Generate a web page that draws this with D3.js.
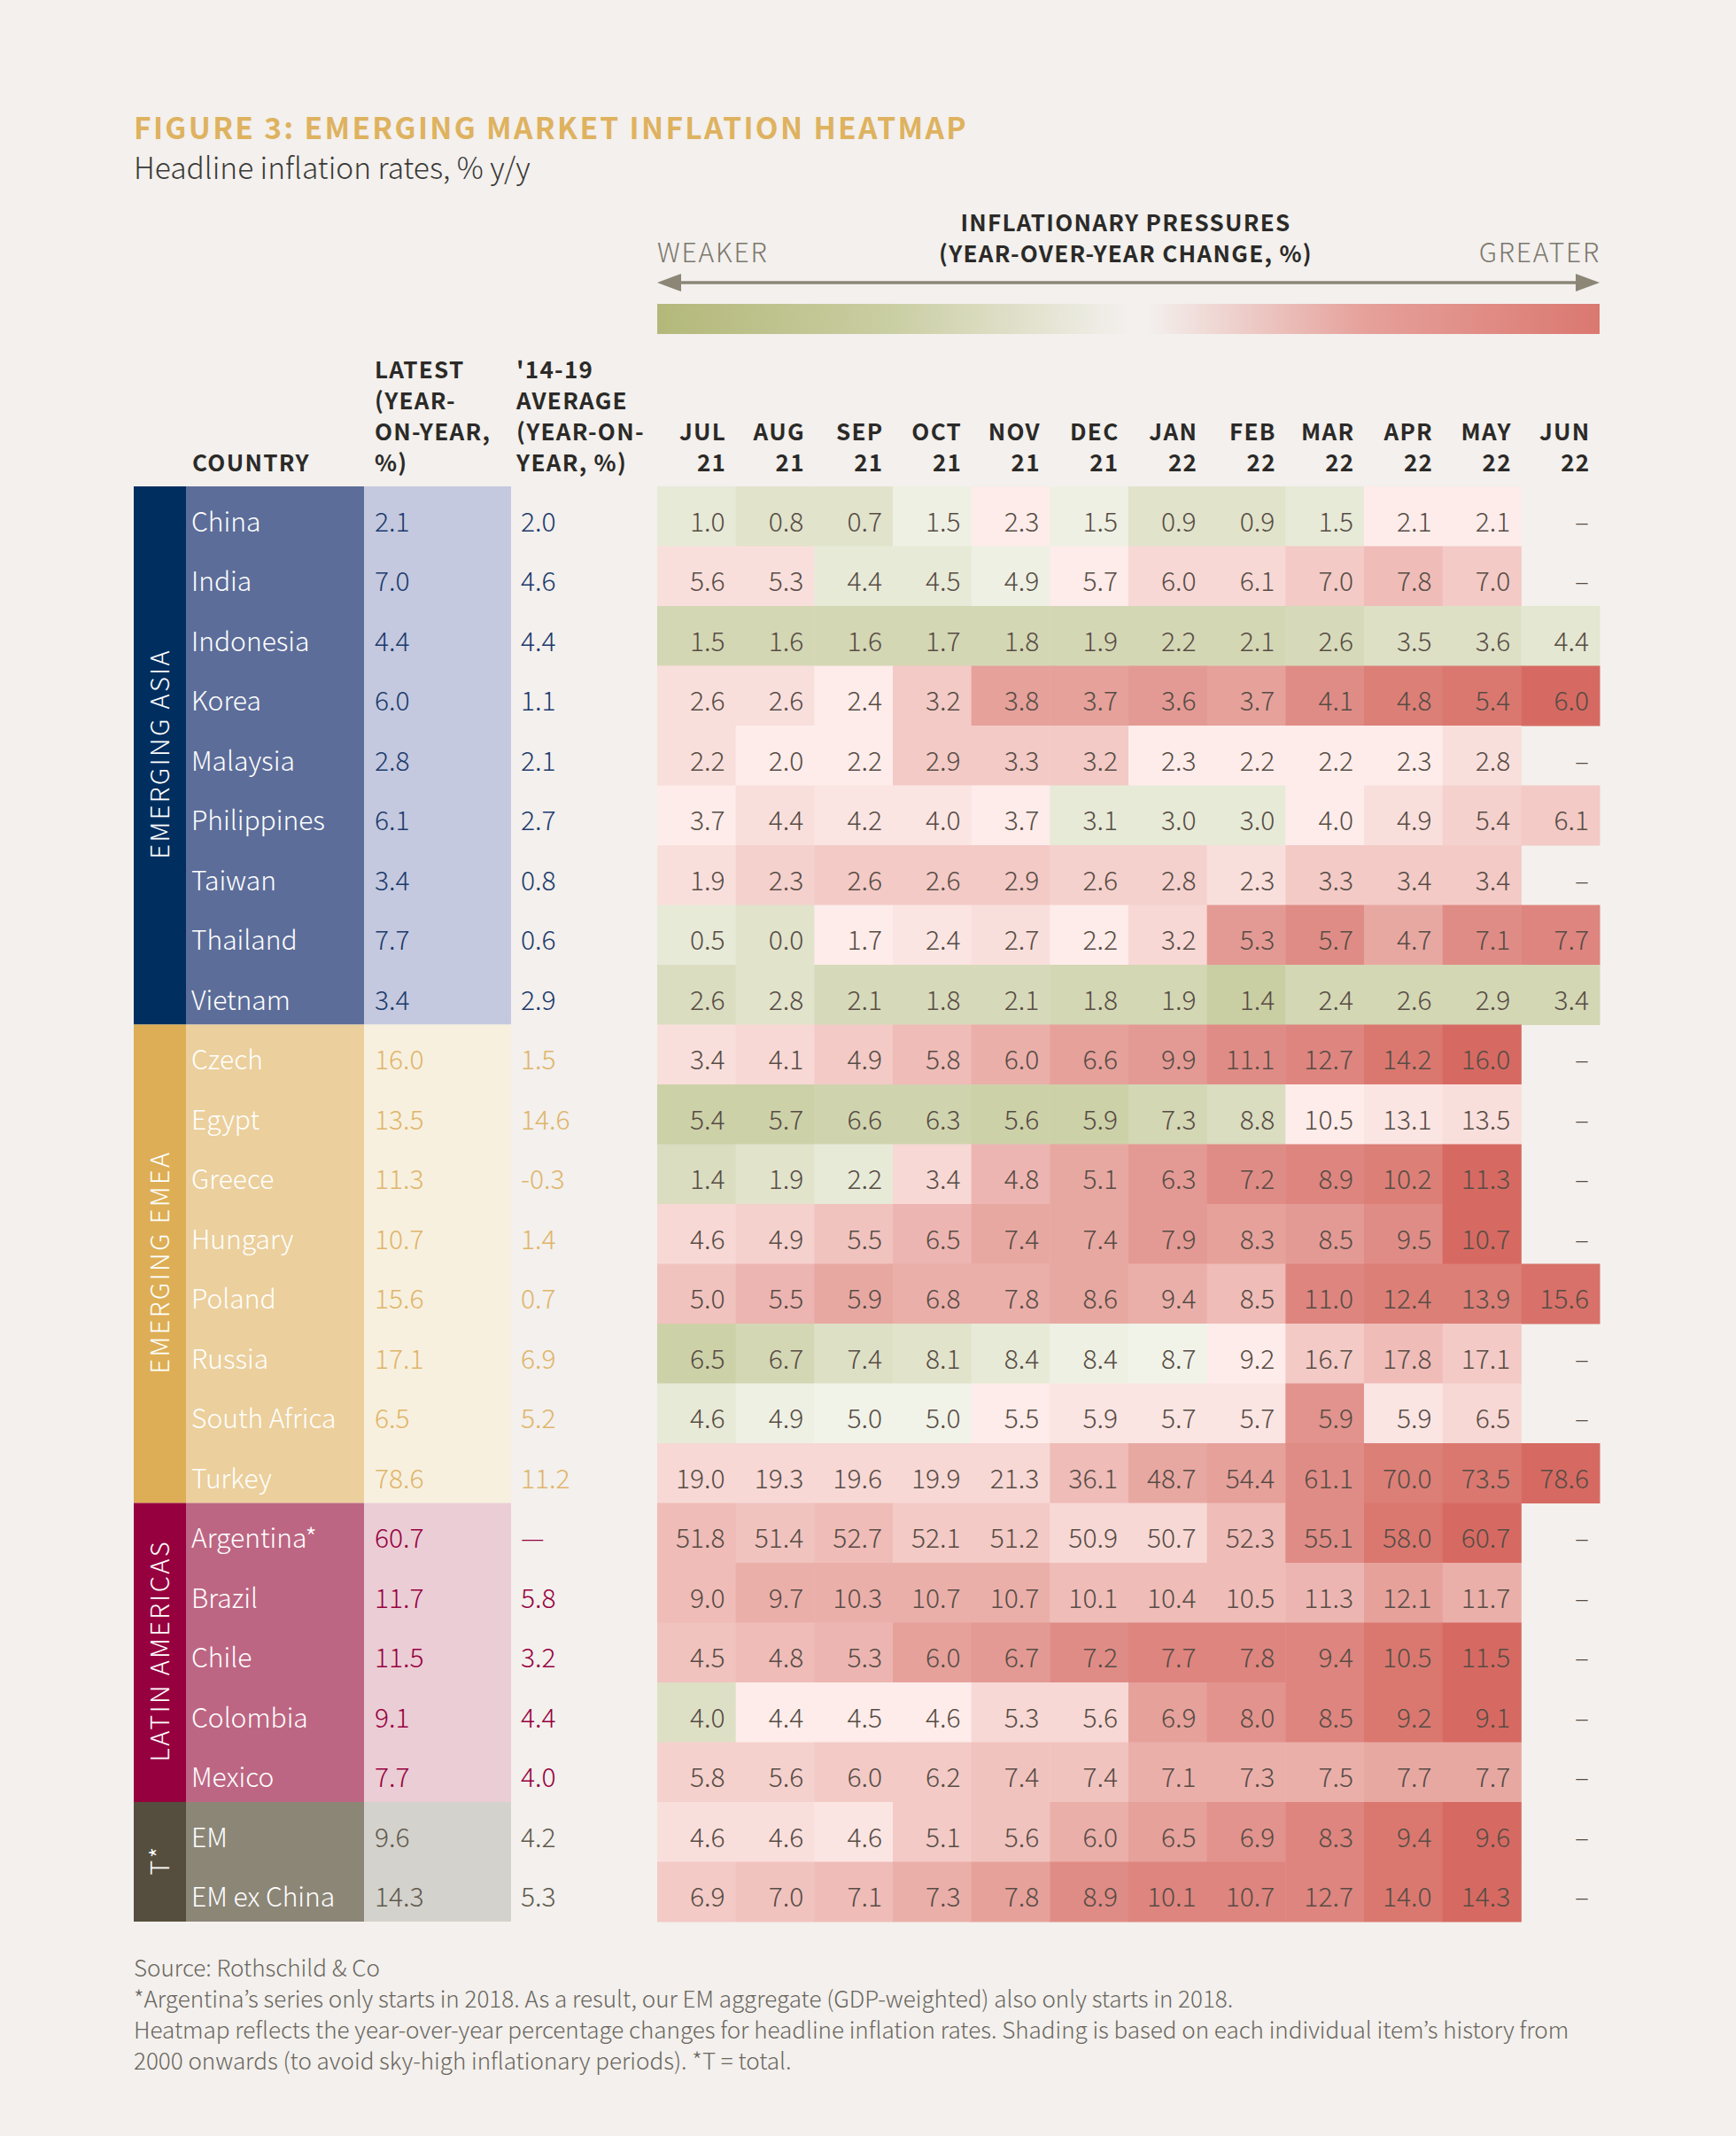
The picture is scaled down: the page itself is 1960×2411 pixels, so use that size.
<!DOCTYPE html>
<html>
<head>
<meta charset="utf-8">
<script src="https://cdnjs.cloudflare.com/ajax/libs/d3/7.8.5/d3.min.js"></script>
<style>
body { margin: 0; background: #f3f0ed; }
text { font-family: "Noto Sans CJK JP", "Noto Sans", sans-serif; }
</style>
</head>
<body>
<div id="chart"></div>
<script>
// table contents
var groups = ["EMERGING ASIA", "EMERGING EMEA", "LATIN AMERICAS", "T*"];
var groupSizes = [9, 8, 5, 2];
var countries = ["China", "India", "Indonesia", "Korea", "Malaysia", "Philippines", "Taiwan", "Thailand", "Vietnam",
    "Czech", "Egypt", "Greece", "Hungary", "Poland", "Russia", "South Africa", "Turkey",
    "Argentina*", "Brazil", "Chile", "Colombia", "Mexico",
    "EM", "EM ex China"];
var months = ["JUL", "AUG", "SEP", "OCT", "NOV", "DEC", "JAN", "FEB", "MAR", "APR", "MAY", "JUN"];
var years = ["21", "21", "21", "21", "21", "21", "22", "22", "22", "22", "22", "22"];
var latest = ["2.1", "7.0", "4.4", "6.0", "2.8", "6.1", "3.4", "7.7", "3.4",
    "16.0", "13.5", "11.3", "10.7", "15.6", "17.1", "6.5", "78.6",
    "60.7", "11.7", "11.5", "9.1", "7.7",
    "9.6", "14.3"];
var average = ["2.0", "4.6", "4.4", "1.1", "2.1", "2.7", "0.8", "0.6", "2.9",
    "1.5", "14.6", "-0.3", "1.4", "0.7", "6.9", "5.2", "11.2",
    "—", "5.8", "3.2", "4.4", "4.0",
    "4.2", "5.3"];

var values = [
    ["1.0","0.8","0.7","1.5","2.3","1.5","0.9","0.9","1.5","2.1","2.1","–"],
    ["5.6","5.3","4.4","4.5","4.9","5.7","6.0","6.1","7.0","7.8","7.0","–"],
    ["1.5","1.6","1.6","1.7","1.8","1.9","2.2","2.1","2.6","3.5","3.6","4.4"],
    ["2.6","2.6","2.4","3.2","3.8","3.7","3.6","3.7","4.1","4.8","5.4","6.0"],
    ["2.2","2.0","2.2","2.9","3.3","3.2","2.3","2.2","2.2","2.3","2.8","–"],
    ["3.7","4.4","4.2","4.0","3.7","3.1","3.0","3.0","4.0","4.9","5.4","6.1"],
    ["1.9","2.3","2.6","2.6","2.9","2.6","2.8","2.3","3.3","3.4","3.4","–"],
    ["0.5","0.0","1.7","2.4","2.7","2.2","3.2","5.3","5.7","4.7","7.1","7.7"],
    ["2.6","2.8","2.1","1.8","2.1","1.8","1.9","1.4","2.4","2.6","2.9","3.4"],
    ["3.4","4.1","4.9","5.8","6.0","6.6","9.9","11.1","12.7","14.2","16.0","–"],
    ["5.4","5.7","6.6","6.3","5.6","5.9","7.3","8.8","10.5","13.1","13.5","–"],
    ["1.4","1.9","2.2","3.4","4.8","5.1","6.3","7.2","8.9","10.2","11.3","–"],
    ["4.6","4.9","5.5","6.5","7.4","7.4","7.9","8.3","8.5","9.5","10.7","–"],
    ["5.0","5.5","5.9","6.8","7.8","8.6","9.4","8.5","11.0","12.4","13.9","15.6"],
    ["6.5","6.7","7.4","8.1","8.4","8.4","8.7","9.2","16.7","17.8","17.1","–"],
    ["4.6","4.9","5.0","5.0","5.5","5.9","5.7","5.7","5.9","5.9","6.5","–"],
    ["19.0","19.3","19.6","19.9","21.3","36.1","48.7","54.4","61.1","70.0","73.5","78.6"],
    ["51.8","51.4","52.7","52.1","51.2","50.9","50.7","52.3","55.1","58.0","60.7","–"],
    ["9.0","9.7","10.3","10.7","10.7","10.1","10.4","10.5","11.3","12.1","11.7","–"],
    ["4.5","4.8","5.3","6.0","6.7","7.2","7.7","7.8","9.4","10.5","11.5","–"],
    ["4.0","4.4","4.5","4.6","5.3","5.6","6.9","8.0","8.5","9.2","9.1","–"],
    ["5.8","5.6","6.0","6.2","7.4","7.4","7.1","7.3","7.5","7.7","7.7","–"],
    ["4.6","4.6","4.6","5.1","5.6","6.0","6.5","6.9","8.3","9.4","9.6","–"],
    ["6.9","7.0","7.1","7.3","7.8","8.9","10.1","10.7","12.7","14.0","14.3","–"]
];

// shading: negative = green, positive = red, null = no cell
var shades = [
    [-2,-3,-3,-1,0.5,-1,-3,-3,-2,0.5,0.5,null],
    [1.5,1.5,-2,-2,-1,0.5,2,2,3,4,3,null],
    [-5,-5,-5,-5,-5,-5,-5,-5,-4.5,-3.5,-3.5,-2.5],
    [1.5,1.5,0.5,3,6,6,6.5,6,7.5,8.5,9,10],
    [1.5,0.5,0.5,3,3,3,0.5,0.5,0.5,0.5,1.5,null],
    [0.5,1.5,1,1,0.5,-2,-2,-2,0.5,1.5,2.5,3],
    [1.5,2.5,3,3,3,2.5,2.5,1.5,3,3,3,null],
    [-2,-3,0.5,1,1.5,0.5,2,6.5,7.5,5.5,7.5,8],
    [-4,-3,-4.5,-4.5,-4.5,-5,-5,-6.5,-5,-5,-5,-5],
    [1.5,2,3,4,5,6,6.5,7.5,8,9,10,null],
    [-6,-6,-5.5,-5.5,-6,-6,-5,-4,0.5,1,1.5,null],
    [-4,-3,-2,2,4.5,5.5,6.5,7.5,8,8.5,10,null],
    [2,2.5,3.5,4.5,5.5,5.5,6.5,6,6.5,7.5,10,null],
    [3.5,4.5,5.5,5,5,5.5,5,4,8,8.5,8.5,9.5],
    [-6,-5,-3.5,-3,-2,-1,-0.5,0.5,3,4,3,null],
    [-2,-1,-0.5,-0.5,0.5,1,1,1,7,1,2,null],
    [2,2,2,2,2,4,5.5,6,7.5,8.5,9,10],
    [4,3.5,4,3,3,2,2,4,7.5,9,10,null],
    [4,5,5,5,5,4,4,4,4.5,6,5,null],
    [3.5,4,4.5,6,6.5,7.5,8,8,8,9,10,null],
    [-3.5,0.5,0.5,0.5,2,2,6,7,8,9,10,null],
    [2.5,2.5,3,3,3.5,3.5,5,5,5,5.5,5.5,null],
    [1.5,1.5,1,3,3.5,5,6,7,8,9,10,null],
    [3,3.5,4,5,6,7.5,8,8,8,9,10,null]
];

var footnotes = ["Source: Rothschild & Co",
    "*Argentina’s series only starts in 2018. As a result, our EM aggregate (GDP-weighted) also only starts in 2018.",
    "Heatmap reflects the year-over-year percentage changes for headline inflation rates. Shading is based on each individual item’s history from",
    "2000 onwards (to avoid sky-high inflationary periods). *T = total."];

var groupColors = [
    { dark: "#002e5f", mid: "#5c6d99", pale: "#c4c9df", text: "#1c3a6c" },
    { dark: "#ddae55", mid: "#ebcf9c", pale: "#f8f0df", text: "#dfb56a" },
    { dark: "#97003f", mid: "#bd6683", pale: "#ebcdd5", text: "#97003f" },
    { dark: "#554e3e", mid: "#8c8677", pale: "#d4d2cc", text: "#5f5a4e" }
];

var svgWidth = 1960;
var svgHeight = 2411;
var bg = "#f3f0ed";
var thin = 300;

var svg = d3.select("#chart")
    .append("svg")
    .attr("width", svgWidth)
    .attr("height", svgHeight)
    .style("display", "block");

svg.append("rect").attr("width", svgWidth).attr("height", svgHeight).attr("fill", bg);

// scales
var rowScale = d3.scaleBand().domain(d3.range(countries.length)).range([549, 2169]);
var colScale = d3.scaleBand().domain(d3.range(months.length)).range([742, 1806]);
var shadeColor = d3.scaleLinear()
    .domain([-10, -0.01, 0.01, 10])
    .range(["#b3b87a", "#f4f6ee", "#fff3f1", "#d66a62"]);

var rowGroup = [];
groupSizes.forEach((n, g) => { for (var i = 0; i < n; i++) rowGroup.push(g); });

// title
svg.append("text")
    .attr("x", 151).attr("y", 157)
    .attr("fill", "#deb25f")
    .style("font-size", "33.5px").style("font-weight", 700).style("letter-spacing", "2.35px")
    .text("FIGURE 3: EMERGING MARKET INFLATION HEATMAP");
svg.append("text")
    .attr("x", 151).attr("y", 202)
    .attr("fill", "#3b3a38")
    .style("font-size", "33.5px").style("font-weight", thin)
    .text("Headline inflation rates, % y/y");

// legend
var headFont = "26px";
var headSpace = 1.3;
svg.append("text").attr("x", 1271).attr("y", 261).attr("text-anchor", "middle")
    .attr("fill", "#2b2a28").style("font-size", headFont).style("font-weight", 700).style("letter-spacing", headSpace + "px")
    .text("INFLATIONARY PRESSURES");
svg.append("text").attr("x", 1271).attr("y", 296).attr("text-anchor", "middle")
    .attr("fill", "#2b2a28").style("font-size", headFont).style("font-weight", 700).style("letter-spacing", headSpace + "px")
    .text("(YEAR-OVER-YEAR CHANGE, %)");
svg.append("text").attr("x", 742).attr("y", 296)
    .attr("fill", "#7c776c").style("font-size", "30px").style("font-weight", thin).style("letter-spacing", "1.8px")
    .text("WEAKER");
svg.append("text").attr("x", 1807).attr("y", 296).attr("text-anchor", "end")
    .attr("fill", "#7c776c").style("font-size", "30px").style("font-weight", thin).style("letter-spacing", "1.8px")
    .text("GREATER");

svg.append("line").attr("x1", 760).attr("x2", 1788).attr("y1", 319).attr("y2", 319)
    .attr("stroke", "#8c8677").attr("stroke-width", 3.5);
svg.append("path").attr("d", "M742,319L769,309L769,329Z").attr("fill", "#8c8677");
svg.append("path").attr("d", "M1806,319L1779,309L1779,329Z").attr("fill", "#8c8677");

var gradient = svg.append("defs").append("linearGradient").attr("id", "legendFill");
gradient.append("stop").attr("offset", "0%").attr("stop-color", shadeColor(-10));
gradient.append("stop").attr("offset", "25%").attr("stop-color", shadeColor(-6.5));
gradient.append("stop").attr("offset", "50%").attr("stop-color", bg);
gradient.append("stop").attr("offset", "52%").attr("stop-color", bg);
gradient.append("stop").attr("offset", "75%").attr("stop-color", shadeColor(6));
gradient.append("stop").attr("offset", "100%").attr("stop-color", shadeColor(9));
svg.append("rect").attr("x", 742).attr("y", 343).attr("width", 1064).attr("height", 34)
    .attr("fill", "url(#legendFill)");

// column headers
function headLine(x, y, str, anchor) {
    svg.append("text").attr("x", x).attr("y", y).attr("text-anchor", anchor || "start")
        .attr("fill", "#2b2a28").style("font-size", headFont).style("font-weight", 700).style("letter-spacing", headSpace + "px")
        .text(str);
}
headLine(217, 532, "COUNTRY");
["LATEST", "(YEAR-", "ON-YEAR,", "%)"].forEach((s, i) => headLine(423, 427 + i * 35, s));
["'14-19", "AVERAGE", "(YEAR-ON-", "YEAR, %)"].forEach((s, i) => headLine(583, 427 + i * 35, s));
months.forEach((m, i) => {
    var x = colScale(i) + colScale.bandwidth() - 10.5;
    headLine(x, 497, m, "end");
    headLine(x, 532, years[i], "end");
});

// group and country columns
var cellFont = "30px";
var groupRows = [];
var start = 0;
groupSizes.forEach((n, g) => { groupRows.push({ g: g, start: start, n: n }); start += n; });

svg.selectAll(".band").data(groupRows).enter().append("rect")
    .attr("class", "band")
    .attr("x", 151).attr("width", 59)
    .attr("y", d => rowScale(d.start))
    .attr("height", d => d.n * rowScale.bandwidth())
    .attr("fill", d => groupColors[d.g].dark);
svg.selectAll(".midband").data(groupRows).enter().append("rect")
    .attr("class", "midband")
    .attr("x", 210).attr("width", 201)
    .attr("y", d => rowScale(d.start))
    .attr("height", d => d.n * rowScale.bandwidth())
    .attr("fill", d => groupColors[d.g].mid);
svg.selectAll(".paleband").data(groupRows).enter().append("rect")
    .attr("class", "paleband")
    .attr("x", 411).attr("width", 166)
    .attr("y", d => rowScale(d.start))
    .attr("height", d => d.n * rowScale.bandwidth())
    .attr("fill", d => groupColors[d.g].pale);

svg.selectAll(".groupLabel").data(groupRows).enter().append("text")
    .attr("class", "groupLabel")
    .attr("transform", d => `translate(191,${rowScale(d.start) + d.n * rowScale.bandwidth() / 2 - 2}) rotate(-90)`)
    .attr("text-anchor", "middle")
    .attr("fill", "#ffffff")
    .style("font-size", "29px").style("font-weight", thin).style("letter-spacing", "2.4px")
    .text((d, i) => groups[i]);

var rowMid = i => rowScale(i) + rowScale.bandwidth() / 2 + 17;

svg.selectAll(".country").data(countries).enter().append("text")
    .attr("class", "country")
    .attr("x", 216).attr("y", (d, i) => rowMid(i))
    .attr("fill", "#ffffff")
    .style("font-size", cellFont).style("font-weight", thin)
    .text(d => d);
svg.selectAll(".latest").data(latest).enter().append("text")
    .attr("class", "latest")
    .attr("x", 423).attr("y", (d, i) => rowMid(i))
    .attr("fill", (d, i) => groupColors[rowGroup[i]].text)
    .style("font-size", cellFont).style("font-weight", thin)
    .text(d => d);
svg.selectAll(".average").data(average).enter().append("text")
    .attr("class", "average")
    .attr("x", 588).attr("y", (d, i) => rowMid(i))
    .attr("fill", (d, i) => groupColors[rowGroup[i]].text)
    .style("font-size", cellFont).style("font-weight", thin)
    .text(d => d);

// heatmap
var cells = [];
values.forEach((row, r) => row.forEach((v, c) => cells.push({ r: r, c: c, v: v, s: shades[r][c] })));

svg.selectAll(".cell").data(cells.filter(d => d.s !== null)).enter().append("rect")
    .attr("class", "cell")
    .attr("x", d => colScale(d.c))
    .attr("y", d => rowScale(d.r))
    .attr("width", colScale.bandwidth() + 0.5)
    .attr("height", rowScale.bandwidth() + 0.5)
    .attr("fill", d => shadeColor(d.s));

svg.selectAll(".cellText").data(cells).enter().append("text")
    .attr("class", "cellText")
    .attr("x", d => colScale(d.c) + colScale.bandwidth() - 12)
    .attr("y", d => rowMid(d.r))
    .attr("text-anchor", "end")
    .attr("fill", "#574c45")
    .style("font-size", cellFont).style("font-weight", thin)
    .text(d => d.v);

// notes
svg.selectAll(".note").data(footnotes).enter().append("text")
    .attr("class", "note")
    .attr("x", 151).attr("y", (d, i) => 2231 + i * 35)
    .attr("fill", "#6a665e")
    .style("font-size", "26px").style("font-weight", thin)
    .text(d => d);
</script>
</body>
</html>
